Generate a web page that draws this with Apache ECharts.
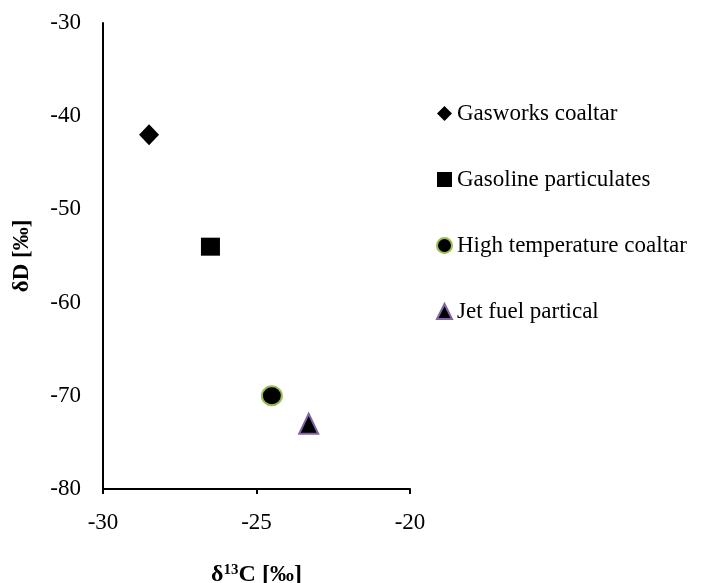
<!DOCTYPE html>
<html>
<head>
<meta charset="utf-8">
<script src="https://cdn.jsdelivr.net/npm/echarts@6/dist/echarts.min.js"></script>
<style>html,body{margin:0;padding:0;background:#fff}#c{width:705px;height:583px}</style>
</head>
<body>
<div id="c"></div>
<script>
const seriesNames = ['Gasworks coaltar', 'Gasoline particulates', 'High temperature coaltar', 'Jet fuel partical'];
const d13C = [-28.5, -26.5, -24.5, -23.3];
const dD = [-42, -54, -70, -73];
const xTicks = [-30, -25, -20];
const yTicks = [-80, -70, -60, -50, -40, -30];

const FONT = '"Liberation Serif", "Times New Roman", serif';
const symbols = ['diamond', 'rect', 'circle', 'triangle'];
const sizes = [[20, 21], [19, 18], [20, 19], [19, 20]];
const borders = [null, null, '#9BBB59', '#8064A2'];

const chart = echarts.init(document.getElementById('c'));
const series = seriesNames.map((n, i) => ({
  name: n,
  type: 'scatter',
  symbol: symbols[i],
  symbolSize: sizes[i],
  itemStyle: borders[i] ? {color: '#000', opacity: 1, borderColor: borders[i], borderWidth: 2} : {color: '#000', opacity: 1},
  data: [[d13C[i], dD[i]]]
}));

chart.setOption({
  animation: false,
  backgroundColor: '#fff',
  textStyle: {fontFamily: FONT, color: '#000'},
  grid: {left: 103, top: 23, right: 295, bottom: 94, containLabel: false, outerBoundsMode: 'none'},
  legend: {
    orient: 'vertical',
    left: 436,
    top: 102,
    padding: 0,
    itemGap: 43,
    itemWidth: 15,
    itemHeight: 15,
    textStyle: {fontFamily: FONT, fontSize: 23, color: '#000'},
    data: seriesNames
  },
  xAxis: {
    type: 'value',
    min: xTicks[0], max: xTicks[xTicks.length - 1], interval: 5,
    name: '{a|δ}{s|13}{a|C [‰]}',
    nameLocation: 'middle',
    nameGap: 74,
    nameTextStyle: {
      rich: {
        a: {fontFamily: FONT, fontSize: 24, fontWeight: 'bold', color: '#000'},
        s: {fontFamily: FONT, fontSize: 15, fontWeight: 'bold', color: '#000', verticalAlign: 'top', padding: [0, 0, 8, 0]}
      }
    },
    splitLine: {show: false},
    axisLine: {onZero: false, lineStyle: {color: '#000', width: 2}},
    axisTick: {show: true, inside: false, length: 5, lineStyle: {color: '#000', width: 2}},
    axisLabel: {fontFamily: FONT, fontSize: 23, color: '#000', margin: 22}
  },
  yAxis: {
    type: 'value',
    min: yTicks[0], max: yTicks[yTicks.length - 1], interval: 10,
    name: 'δD [‰]',
    nameLocation: 'middle',
    nameGap: 69,
    nameTextStyle: {fontFamily: FONT, fontSize: 23, fontWeight: 'bold', color: '#000'},
    splitLine: {show: false},
    axisLine: {onZero: false, lineStyle: {color: '#000', width: 2}},
    axisTick: {show: false},
    axisLabel: {fontFamily: FONT, fontSize: 23, color: '#000', margin: 22}
  },
  series: series
});
</script>
</body>
</html>
